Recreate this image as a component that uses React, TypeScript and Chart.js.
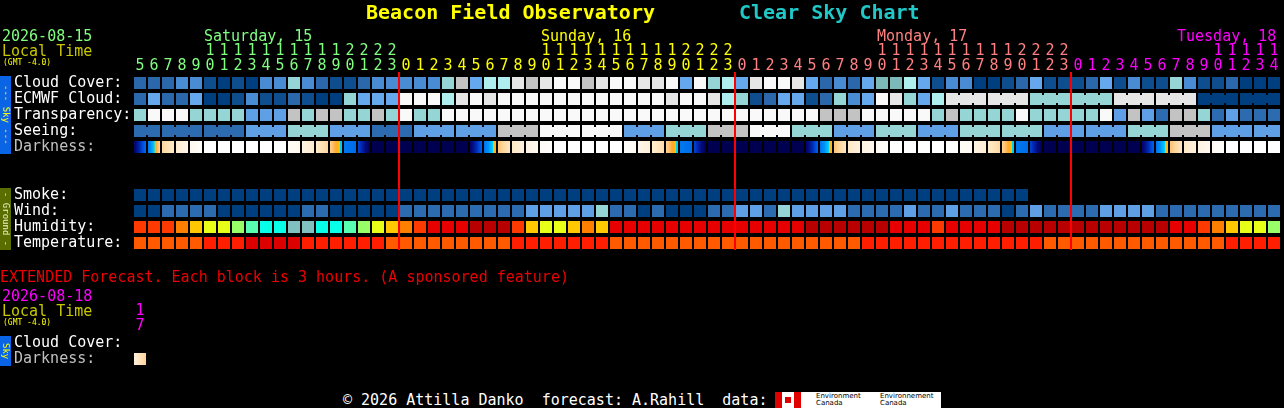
import React, { useEffect, useRef } from "react";
import { Chart, registerables } from "chart.js";

Chart.register(...registerables);

const FONT = "'DejaVu Sans Mono', monospace";

// ---------- tick labels (local hour of each column) ----------
const saturdayHours = [5, 6, 7, 8, 9, 10, 11, 12, 13, 14, 15, 16, 17, 18, 19, 20, 21, 22, 23];
const sundayHours = [0, 1, 2, 3, 4, 5, 6, 7, 8, 9, 10, 11, 12, 13, 14, 15, 16, 17, 18, 19, 20, 21, 22, 23];
const mondayHours = [0, 1, 2, 3, 4, 5, 6, 7, 8, 9, 10, 11, 12, 13, 14, 15, 16, 17, 18, 19, 20, 21, 22, 23];
const tuesdayHours = [0, 1, 2, 3, 4, 5, 6, 7, 8, 9, 10, 11, 12, 13, 14];
const dayTitles = ["Saturday, 15", "Sunday, 16", "Monday, 17", "Tuesday, 18"];

const skyLabels = ["Cloud Cover:", "ECMWF Cloud:", "Transparency:", "Seeing:", "Darkness:"];
const groundLabels = ["Smoke:", "Wind:", "Humidity:", "Temperature:"];

// ---------- values (palette level per hourly column) ----------
const cloudCover = [
  2, 2, 2, 3, 3, 1, 0, 1, 0, 3,
  3, 6, 3, 2, 1, 1, 2, 3, 3, 3,
  3, 3, 6, 8, 4, 7, 7, 9, 8, 9,
  10, 10, 8, 9, 10, 10, 9, 9, 10, 4,
  10, 6, 7, 4, 9, 10, 10, 9, 4, 2,
  3, 2, 4, 5, 5, 7, 4, 1, 3, 3,
  0, 0, 1, 2, 4, 1, 1, 1, 2, 4,
  1, 3, 1, 1, 6, 3, 1, 1, 2, 0,
  0, 0,
];
const ecmwfHourly = [
  2, 4, 2, 2, 4, 0, 0, 1, 3, 1,
  1, 2, 1, 0, 0, 6, 4, 4, 4, 10,
  10, 10, 7, 9, 10, 9, 10, 10, 10, 10,
  10, 10, 10, 10, 10, 10, 10, 10, 9, 10,
  10, 9, 7, 6, 1, 2, 4, 4, 1, 2,
  6, 3, 4, 10, 9, 6, 4, 7,
];
const ecmwf3h = [9, 9, 6, 6, 9, 9, 0, 0];
const transparency = [
  2, 0, 0, 0, 2, 2, 2, 2, 3, 3,
  3, 1, 2, 1, 1, 2, 2, 1, 2, 0,
  2, 2, 0, 0, 0, 0, 0, 0, 0, 0,
  0, 0, 0, 0, 0, 0, 0, 0, 0, 0,
  0, 0, 0, 0, 0, 0, 0, 0, 0, 1,
  1, 1, 0, 0, 0, 0, 0, 2, 1, 2,
  2, 2, 2, 0, 2, 2, 2, 2, 2, 0,
  3, 1, 3, 4, 1, 1, 2, 4, 3, 4,
  4, 4,
];
const seeing3h = [4, 4, 4, 3, 2, 3, 4, 3, 3, 1, 0, 0, 3, 2, 1, 0, 2, 3, 2, 3, 2, 2, 3, 3, 2, 1, 3, 3];
const darknessStart = [
  5.5, 2.0, -1.5, -2.6, -3.3, -4, -4, -4, -4, -4,
  -4, -3.6, -3.0, -2.5, -1.3, 2.0, 3.2, 6, 6, 6,
  6, 6, 6, 6, 5.5, 2.2, -1.0, -2.4, -3.0, -3.6,
  -4, -4, -4, -4, -4, -3.8, -3.2, -2.6, -1.4, 2.0,
  3.2, 6, 6, 6, 6, 6, 6, 6, 5.5, 2.2,
  -1.0, -2.4, -3.0, -3.5, -4, -4, -4, -4, -4, -3.7,
  -3.0, -2.5, -1.4, 2.0, 3.2, 6, 6, 6, 6, 6,
  6, 6, 5.5, 2.2, -1.0, -2.4, -3.0, -3.5, -4, -4,
  -4, -4,
];
const darknessEnd = [
  2.2, -1.6, -2.5, -3.2, -3.8, -4, -4, -4, -4, -4,
  -4, -3.4, -2.6, -1.5, 0.3, 2.3, 6, 6, 6, 6,
  6, 6, 6, 6, 2.5, -0.7, -2.2, -2.9, -3.5, -3.9,
  -4, -4, -4, -4, -4, -3.6, -2.8, -1.8, 0.3, 2.3,
  6, 6, 6, 6, 6, 6, 6, 6, 2.5, -0.7,
  -2.2, -2.9, -3.4, -3.9, -4, -4, -4, -4, -4, -3.5,
  -2.7, -1.6, 0.3, 2.3, 6, 6, 6, 6, 6, 6,
  6, 6, 2.5, -0.7, -2.2, -2.9, -3.4, -3.9, -4, -4,
  -4, -4,
];
const smoke = [
  0, 0, 0, 0, 0, 0, 0, 0, 0, 0,
  0, 0, 0, 0, 0, 0, 0, 0, 0, 0,
  0, 0, 0, 0, 0, 0, 0, 0, 0, 0,
  0, 0, 0, 0, 0, 0, 0, 0, 0, 0,
  0, 0, 0, 0, 0, 0, 0, 0, 0, 0,
  0, 0, 0, 0, 0, 0, 0, 0, 0, 0,
  0, 0, 0, 0,
];
const wind = [
  0, 0, 1, 1, 1, 1, 0, 0, 0, 0,
  0, 0, 1, 1, 0, 0, 0, 0, 0, 1,
  1, 1, 1, 1, 1, 1, 1, 1, 2, 2,
  2, 2, 2, 3, 1, 1, 0, 1, 0, 0,
  0, 1, 1, 2, 2, 1, 3, 2, 2, 2,
  2, 1, 1, 1, 1, 2, 1, 1, 2, 1,
  1, 1, 0, 1, 2, 1, 1, 1, 1, 2,
  2, 2, 2, 1, 1, 1, 1, 1, 1, 1,
  1, 1,
];
const humidity = [
  7, 7, 7, 6, 5, 4, 4, 3, 2, 1,
  1, 0, 0, 1, 1, 2, 3, 4, 5, 6,
  7, 8, 8, 8, 9, 9, 9, 7, 5, 4,
  4, 5, 6, 5, 8, 8, 8, 8, 8, 8,
  8, 8, 8, 8, 8, 8, 8, 8, 9, 9,
  9, 9, 9, 9, 8, 8, 8, 7, 8, 8,
  8, 8, 9, 9, 9, 9, 9, 9, 9, 9,
  9, 9, 9, 9, 8, 8, 7, 6, 5, 4,
  4, 3,
];
const temperature = [
  0, 0, 0, 0, 0, 1, 1, 1, 2, 2,
  2, 2, 1, 1, 1, 1, 1, 1, 0, 0,
  0, 0, 0, 0, 0, 0, 0, 1, 1, 1,
  1, 1, 1, 1, 0, 0, 0, 0, 0, 0,
  0, 0, 0, 0, 0, 0, 0, 0, 0, 0,
  0, 0, 1, 1, 1, 1, 1, 1, 1, 1,
  1, 1, 1, 1, 1, 0, 0, 0, 0, 0,
  0, 0, 0, 0, 0, 0, 0, 0, 1, 1,
  1, 1,
];

// extended forecast (3-hour blocks)
const extHours = [17];
const extCloud: (number | null)[] = [null];
const extDarkStart = [-2.8];
const extDarkEnd = [-1.4];

// ---------- styles ----------
const cloudPalette = ["#003f7f", "#0f4e8e", "#2a67ab", "#4a8cd3", "#65a8ee", "#7cbaba", "#95d5d5", "#aeeeee", "#c3c3c3", "#e6e6e6", "#f9f9f9"];
const skyPalette = ["#f9f9f9", "#c3c3c3", "#95d5d5", "#5e9fe6", "#2c6bb0", "#003f7f"];
const smokePalette = ["#003f7f"];
const windPalette = ["#003f7f", "#2c6bb0", "#5e9fe6", "#95d5d5", "#c3c3c3", "#f9f9f9"];
const humidityPalette = ["#80c0c0", "#08ffe8", "#58ffb0", "#98ff68", "#e8ff18", "#ffc800", "#ff8000", "#ff3a00", "#e60000", "#b80000"];
const temperaturePalette = ["#ff5a00", "#ff1e00", "#dc0000"];
const dayColors = ["#80ff80", "#ffff00", "#ff8080", "#ff00ff"];

const darkStops: [number, string][] = [
  [-4, "#ffffff"], [-3.5, "#fffaf2"], [-3, "#fff3e2"], [-2.5, "#ffebcc"], [-2, "#ffe2b6"],
  [-1.5, "#ffd59c"], [-1, "#ffc470"], [-0.5, "#ffa830"], [-0.02, "#ffc000"], [0, "#00d8f0"],
  [0.6, "#00b0ff"], [1.2, "#0090f8"], [2, "#0078ee"], [3, "#0050e0"], [4, "#0026b0"],
  [5, "#000a7c"], [6, "#000050"],
];

const ROW_H = 12;
const BLOCK_W = 12;
const SKY_TOPS = [5, 21, 37, 53, 69];
const GROUND_TOPS = [117, 133, 149, 165];

function rgb(h: string) {
  const n = parseInt(h.slice(1), 16);
  return [(n >> 16) & 255, (n >> 8) & 255, n & 255];
}
function darkColor(v: number) {
  if (v <= darkStops[0][0]) return darkStops[0][1];
  const last = darkStops[darkStops.length - 1];
  if (v >= last[0]) return last[1];
  for (let k = 0; k < darkStops.length - 1; k++) {
    const [a, ca] = darkStops[k];
    const [b, cb] = darkStops[k + 1];
    if (v >= a && v <= b) {
      const t = (v - a) / (b - a);
      const A = rgb(ca), B = rgb(cb);
      const m = A.map((x, j) => Math.round(x + (B[j] - x) * t));
      return `rgb(${m[0]},${m[1]},${m[2]})`;
    }
  }
  return last[1];
}

function darkFill(starts: number[], ends: number[]) {
  return (c: any) => {
    if (c.type !== "data" || !c.raw) return "#000";
    const i = c.raw.x;
    const s = starts[i], e = ends[i];
    if (s === e) return darkColor(s);
    const xs = c.chart.scales && c.chart.scales.x;
    const cx = xs ? xs.getPixelForValue(i) : NaN;
    if (!Number.isFinite(cx)) return darkColor((s + e) / 2);
    const g = c.chart.ctx.createLinearGradient(cx - BLOCK_W / 2, 0, cx + BLOCK_W / 2, 0);
    const N = 30;
    for (let k = 0; k <= N; k++) {
      const t = k / N;
      g.addColorStop(t, darkColor(s + (e - s) * t));
    }
    return g;
  };
}

const base = { type: "bar", stack: "all", borderWidth: 0, inflateAmount: 0, borderSkipped: false };

function blocks(values: (number | null)[], palette: string[], top: number) {
  const data: any[] = [];
  const colors: string[] = [];
  values.forEach((v, i) => {
    if (v === null || v === undefined) return;
    data.push({ x: i, y: [top, top + ROW_H] });
    colors.push(palette[v]);
  });
  return { ...base, data, backgroundColor: colors, barThickness: BLOCK_W, order: 2 };
}

function expand(values: number[], spans: number[]) {
  const out: number[] = [];
  values.forEach((v, g) => { for (let k = 0; k < spans[g]; k++) out.push(v); });
  return out;
}

function joins(values: number[], spans: number[], palette: string[], top: number) {
  const data: any[] = [];
  const colors: string[] = [];
  let c = 0;
  values.forEach((v, g) => {
    for (let k = 0; k < spans[g] - 1; k++) {
      data.push({ x: c + k + 0.5, y: [top + 2, top + ROW_H - 2] });
      colors.push(palette[v]);
    }
    c += spans[g];
  });
  return { ...base, data, backgroundColor: colors, barThickness: 4, order: 1 };
}

function darkBlocks(starts: number[], ends: number[], top: number) {
  return {
    ...base,
    data: starts.map((_, i) => ({ x: i, y: [top, top + ROW_H] })),
    backgroundColor: darkFill(starts, ends),
    barThickness: BLOCK_W,
    order: 2,
  };
}

function gridOptions(opts: {
  nCols: number; hourLabels: number[]; hourColor: (i: number) => string;
  rowTicks: number[]; rowLabels: string[]; rowColors: string[]; yMax: number;
  padRight: number; padBottom: number;
}) {
  const font = { family: FONT, size: 15, lineHeight: "15px" };
  return {
    responsive: false,
    animation: false,
    devicePixelRatio: 1,
    events: [],
    layout: { padding: { left: 14, right: opts.padRight, top: 0, bottom: opts.padBottom } },
    plugins: { legend: { display: false }, tooltip: { enabled: false }, title: { display: false } },
    scales: {
      x: {
        type: "linear",
        position: "top",
        min: -0.5,
        max: opts.nCols - 0.5,
        offset: false,
        afterBuildTicks: (s: any) => { s.ticks = opts.hourLabels.map((_, i) => ({ value: i })); },
        afterFit: (s: any) => { s.height = 72; s.paddingLeft = 0; s.paddingRight = 0; s.paddingTop = 0; s.paddingBottom = 0; },
        ticks: {
          autoSkip: false, maxRotation: 0, minRotation: 0, padding: -2, font,
          color: (c: any) => opts.hourColor(c.index),
          callback: (_v: any, i: number) => {
            const h = opts.hourLabels[i];
            return h >= 10 ? [String(Math.floor(h / 10)), String(h % 10)] : ["", String(h)];
          },
        },
        grid: { display: false, drawTicks: false, offset: false },
        border: { display: false },
      },
      y: {
        type: "linear",
        min: 0,
        max: opts.yMax,
        reverse: true,
        stacked: false,
        afterBuildTicks: (s: any) => { s.ticks = opts.rowTicks.map((v) => ({ value: v })); },
        afterFit: (s: any) => { s.width = 119; s.paddingTop = 0; s.paddingBottom = 0; s.paddingLeft = 0; s.paddingRight = 0; },
        ticks: {
          autoSkip: false, crossAlign: "far", padding: 0, font,
          color: (c: any) => opts.rowColors[c.index],
          callback: (_v: any, i: number) => opts.rowLabels[i],
        },
        grid: { display: false, drawTicks: false },
        border: { display: false },
      },
    },
  };
}

function mainConfig(): any {
  const dayHours = [saturdayHours, sundayHours, mondayHours, tuesdayHours];
  const hours = dayHours.flat();
  const dayOfCol = dayHours.flatMap((h, d) => h.map(() => d));
  const dayStarts: number[] = [];
  let acc = 0;
  dayHours.forEach((h) => { dayStarts.push(acc); acc += h.length; });

  const seeingSpans = seeing3h.map((_, g) => (g === 0 || g === seeing3h.length - 1 ? 2 : 3));
  const ecmwfValues = [...ecmwfHourly, ...ecmwf3h];
  const ecmwfSpans = [...ecmwfHourly.map(() => 1), ...ecmwf3h.map(() => 3)];

  const redLines = {
    ...base,
    data: dayStarts.slice(1).map((s) => ({ x: s - 0.5, y: [0, 178] })),
    backgroundColor: "#ff0000",
    barThickness: 2,
    order: 0,
  };

  const datasets = [
    redLines,
    blocks(cloudCover, cloudPalette, SKY_TOPS[0]),
    blocks(expand(ecmwfValues, ecmwfSpans), cloudPalette, SKY_TOPS[1]),
    joins(ecmwfValues, ecmwfSpans, cloudPalette, SKY_TOPS[1]),
    blocks(transparency, skyPalette, SKY_TOPS[2]),
    blocks(expand(seeing3h, seeingSpans), skyPalette, SKY_TOPS[3]),
    joins(seeing3h, seeingSpans, skyPalette, SKY_TOPS[3]),
    darkBlocks(darknessStart, darknessEnd, SKY_TOPS[4]),
    blocks(smoke, smokePalette, GROUND_TOPS[0]),
    blocks(wind, windPalette, GROUND_TOPS[1]),
    blocks(humidity, humidityPalette, GROUND_TOPS[2]),
    blocks(temperature, temperaturePalette, GROUND_TOPS[3]),
  ];

  const tops = [...SKY_TOPS, ...GROUND_TOPS];
  const labels = [...skyLabels, ...groundLabels];
  return {
    type: "bar",
    data: { datasets },
    options: gridOptions({
      nCols: hours.length,
      hourLabels: hours,
      hourColor: (i) => dayColors[dayOfCol[i]],
      rowTicks: tops.map((t) => t + 6.5),
      rowLabels: labels,
      rowColors: labels.map((l) => (l === "Darkness:" ? "#c0c0c0" : "#ffffff")),
      yMax: 180,
      padRight: 3,
      padBottom: 4,
    }),
  };
}

function extConfig(): any {
  const labels = ["Cloud Cover:", "Darkness:"];
  const tops = [5, 21];
  return {
    type: "bar",
    data: {
      datasets: [
        blocks(extCloud, cloudPalette, tops[0]),
        darkBlocks(extDarkStart, extDarkEnd, tops[1]),
      ],
    },
    options: gridOptions({
      nCols: extHours.length,
      hourLabels: extHours,
      hourColor: () => "#ff00ff",
      rowTicks: tops.map((t) => t + 6.5),
      rowLabels: labels,
      rowColors: ["#ffffff", "#c0c0c0"],
      yMax: 40,
      padRight: 13,
      padBottom: 0,
    }),
  };
}

function Txt(props: { x: number; y: number; color: string; size?: number; bold?: boolean; children: any }) {
  const size = props.size || 15;
  return (
    <div
      style={{
        position: "absolute", left: props.x, top: props.y, color: props.color,
        fontFamily: FONT, fontSize: size, lineHeight: `${size}px`,
        fontWeight: props.bold ? "bold" : "normal", whiteSpace: "pre",
      }}
    >
      {props.children}
    </div>
  );
}

function Badge(props: { y: number; h: number; bg: string; color: string; text: string }) {
  return (
    <div
      style={{
        position: "absolute", left: 0, top: props.y, width: 11, height: props.h, background: props.bg,
        color: props.color, fontFamily: FONT, fontSize: 9, lineHeight: "11px",
        writingMode: "vertical-rl", textAlign: "center", whiteSpace: "pre", overflow: "hidden",
      }}
    >
      {props.text}
    </div>
  );
}

export default function App() {
  const mainRef = useRef<HTMLCanvasElement>(null);
  const extRef = useRef<HTMLCanvasElement>(null);

  useEffect(() => {
    const main = new Chart(mainRef.current as HTMLCanvasElement, mainConfig());
    const ext = new Chart(extRef.current as HTMLCanvasElement, extConfig());
    return () => { main.destroy(); ext.destroy(); };
  }, []);

  return (
    <div style={{ position: "relative", width: 1284, height: 408, background: "#000", overflow: "hidden" }}>
      <style>{`html,body{margin:0;padding:0;background:#000;}`}</style>
      <canvas ref={mainRef} width={1284} height={256} style={{ position: "absolute", left: 0, top: 0 }} />
      <canvas ref={extRef} width={160} height={112} style={{ position: "absolute", left: 0, top: 260 }} />

      <Txt x={366} y={1.5} color="#ffff00" size={20} bold>Beacon Field Observatory</Txt>
      <Txt x={739} y={1.5} color="#20c8c8" size={20} bold>Clear Sky Chart</Txt>

      <Txt x={2} y={29} color="#80ff80">2026-08-15</Txt>
      <Txt x={2} y={44} color="#c8c800">Local Time</Txt>
      <Txt x={3} y={58.5} color="#ffff00" size={8}>(GMT -4.0)</Txt>

      <Txt x={204} y={29} color={dayColors[0]}>{dayTitles[0]}</Txt>
      <Txt x={541} y={29} color={dayColors[1]}>{dayTitles[1]}</Txt>
      <Txt x={877} y={29} color={dayColors[2]}>{dayTitles[2]}</Txt>
      <Txt x={1177} y={29} color={dayColors[3]}>{dayTitles[3]}</Txt>

      <Badge y={76} h={78} bg="#0a64e6" color="#ffff00" text="--- Sky ---" />
      <Badge y={188} h={62} bg="#5a6e00" color="#f0f0c0" text="- Ground -" />

      <Txt x={0} y={269.5} color="#ee0000">EXTENDED Forecast. Each block is 3 hours. (A sponsored feature)</Txt>
      <Txt x={2} y={289} color="#ff00ff">2026-08-18</Txt>
      <Txt x={2} y={304} color="#c8c800">Local Time</Txt>
      <Txt x={3} y={318.5} color="#ffff00" size={8}>(GMT -4.0)</Txt>
      <Badge y={336} h={30} bg="#0a64e6" color="#ffff00" text="Sky" />

      <Txt x={343} y={393} color="#ffffff">{"© 2026 Attilla Danko  forecast: A.Rahill  data:"}</Txt>
      <div style={{ position: "absolute", left: 775, top: 392, width: 26, height: 16, display: "flex" }}>
        <div style={{ width: 7, background: "#e00000" }} />
        <div style={{ width: 12, background: "#fff", display: "flex", alignItems: "center", justifyContent: "center" }}>
          <div style={{ width: 6, height: 6, background: "#e00000" }} />
        </div>
        <div style={{ width: 7, background: "#e00000" }} />
      </div>
      <div style={{ position: "absolute", left: 801, top: 392, width: 140, height: 16, background: "#fff" }}>
        <div style={{ position: "absolute", left: 15, top: 1, fontSize: 7, lineHeight: "7px", color: "#000", fontFamily: "'DejaVu Sans', sans-serif" }}>
          Environment<br />Canada
        </div>
        <div style={{ position: "absolute", left: 79, top: 1, fontSize: 7, lineHeight: "7px", color: "#000", fontFamily: "'DejaVu Sans', sans-serif" }}>
          Environnement<br />Canada
        </div>
      </div>
    </div>
  );
}
